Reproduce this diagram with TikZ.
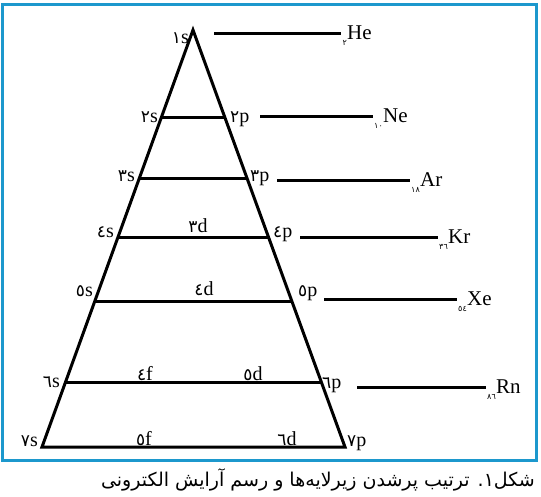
\documentclass[tikz,border=0pt]{standalone}
\usepackage{fontspec}
\setmainfont{Liberation Serif}
\newfontfamily\arabicfont[Script=Arabic]{DejaVu Sans}
\TeXXeTstate=1
\usetikzlibrary{calc}
\definecolor{frameblue}{RGB}{28,152,205}
\newcommand{\dg}[1]{{\arabicfont\fontsize{17}{19}\selectfont #1}}
\tikzset{
  bar/.style={line width=3pt},
  orb/.style={font=\fontsize{20}{22}\selectfont, inner sep=0pt},
  elem/.style={font=\fontsize{21}{24}\selectfont, inner sep=0pt, anchor=west},
  anum/.style={font=\fontsize{8}{9}\selectfont\arabicfont, inner sep=0pt, anchor=north east}
}
\begin{document}
\begin{tikzpicture}[x=1pt,y=-1pt]
  \useasboundingbox (0,0) rectangle (541,496);
  \draw[frameblue,line width=3pt] (2,4.5) rectangle (536,460.5);

  % triangle
  \coordinate (apex) at (193,30);
  \coordinate (bl) at (42,447);
  \coordinate (br) at (345,447);
  \draw[bar] (apex) -- (bl) -- (br) -- cycle;
  % shelves
  \foreach \t [count=\i] in {0.2110, 0.3573, 0.4964, 0.6499, 0.8465} {
    \coordinate (l\i) at ($(apex)!\t!(bl)$);
    \coordinate (r\i) at ($(apex)!\t!(br)$);
    \draw[bar] (l\i) -- (r\i);
  }

  % s and p labels
  \node[orb,anchor=base east] (s1) at (189,43) {\dg{١}s};
  \node[orb,anchor=base east] (s2) at (158,122) {\dg{٢}s};
  \node[orb,anchor=base west] (p2) at (230,122) {\dg{٢}p};
  \node[orb,anchor=base east] (s3) at (135,181) {\dg{٣}s};
  \node[orb,anchor=base west] (p3) at (250,181) {\dg{٣}p};
  \node[orb,anchor=base east] (s4) at (114,237) {\dg{٤}s};
  \node[orb,anchor=base west] (p4) at (273,237) {\dg{٤}p};
  \node[orb,anchor=base east] (s5) at (93,296) {\dg{٥}s};
  \node[orb,anchor=base west] (p5) at (298,296) {\dg{٥}p};
  \node[orb,anchor=base east] (s6) at (60,387) {\dg{٦}s};
  \node[orb,anchor=base west] (p6) at (322,388) {\dg{٦}p};
  \node[orb,anchor=base east] (s7) at (38,446) {\dg{٧}s};
  \node[orb,anchor=base west] (p7) at (347,446) {\dg{٧}p};
  % d and f labels
  \node[orb,anchor=base] (d3) at (198,232) {\dg{٣}d};
  \node[orb,anchor=base] (d4) at (204,295) {\dg{٤}d};
  \node[orb,anchor=base] (f4) at (145,380) {\dg{٤}f};
  \node[orb,anchor=base] (d5) at (253,380) {\dg{٥}d};
  \node[orb,anchor=base] (f5) at (144,445) {\dg{٥}f};
  \node[orb,anchor=base] (d6) at (287,445) {\dg{٦}d};

  % noble gases
  \foreach \el/\z/\xa/\xb/\y in {He/٢/214/347/33, Ne/١٠/260/383/116,
      Ar/١٨/277/420/180, Kr/٣٦/300/448/237, Xe/٥٤/324/467/299, Rn/٨٦/357/496/387} {
    \coordinate (a\el) at (\xa,\y);
    \node[elem] (\el) at (\xb,\y) {\el};
    \node[anum] (z\el) at (\el.south west) {\z};
    \draw[bar,shorten >=1pt] (a\el) -- (a\el -| z\el.west);
  }

  % caption
  \node[anchor=base east,inner sep=0pt,font=\fontsize{19}{21}\selectfont\arabicfont] (cap) at (535,486)
    {\beginR شکل۱. ترتیب پرشدن زیرلایه‌ها و رسم آرایش الکترونی\endR};
\end{tikzpicture}
\end{document}
